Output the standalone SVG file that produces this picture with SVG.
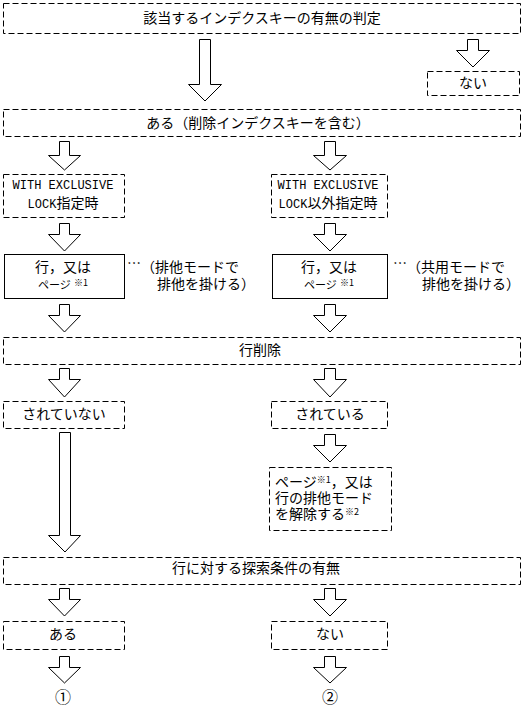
<svg xmlns="http://www.w3.org/2000/svg" width="522" height="713" viewBox="0 0 522 713">
<style>
.bg{fill:#fff}
.db{fill:none;stroke:#000;stroke-width:1;stroke-dasharray:6,3}
.sb{fill:none;stroke:#000;stroke-width:1}
.ar{fill:#fff;stroke:#000;stroke-width:1}
.t{font-family:"Noto Sans CJK JP","Noto Sans CJK SC",sans-serif;font-size:14px;fill:#000}
.m{font-family:"Liberation Mono",monospace;font-size:12px}
.c{text-anchor:middle}
.sup{font-size:9px}
.sm{font-size:11px}
</style>
<rect class="bg" x="0" y="0" width="522" height="713"/>
<g id="connectors">
<polygon class="ar" points="199.5,39.5 210.5,39.5 210.5,84.5 221.5,84.5 205,101 188.5,84.5 199.5,84.5"/>
<polygon class="ar" points="467.5,39.5 478.5,39.5 478.5,50.5 489.5,50.5 473,67 456.5,50.5 467.5,50.5"/>
<polygon class="ar" points="59.5,141.5 69.5,141.5 69.5,155.5 80.5,155.5 64.5,170 48.5,155.5 59.5,155.5"/>
<polygon class="ar" points="324.5,141.5 335.5,141.5 335.5,155.5 346.5,155.5 330,170 313.5,155.5 324.5,155.5"/>
<polygon class="ar" points="59.5,223.5 69.5,223.5 69.5,234.5 80.5,234.5 64.5,251 48.5,234.5 59.5,234.5"/>
<polygon class="ar" points="324.5,223.5 335.5,223.5 335.5,234.5 346.5,234.5 330,251 313.5,234.5 324.5,234.5"/>
<polygon class="ar" points="59.5,304.5 69.5,304.5 69.5,315.5 80.5,315.5 64.5,332 48.5,315.5 59.5,315.5"/>
<polygon class="ar" points="324.5,304.5 335.5,304.5 335.5,315.5 346.5,315.5 330,332 313.5,315.5 324.5,315.5"/>
<polygon class="ar" points="59.5,368.5 69.5,368.5 69.5,379.5 80.5,379.5 64.5,397 48.5,379.5 59.5,379.5"/>
<polygon class="ar" points="324.5,368.5 335.5,368.5 335.5,379.5 346.5,379.5 330,397 313.5,379.5 324.5,379.5"/>
<polygon class="ar" points="59.5,432.5 70.5,432.5 70.5,535.5 80.5,535.5 65,552 48.5,535.5 59.5,535.5"/>
<polygon class="ar" points="324.5,434.5 335.5,434.5 335.5,445.5 346.5,445.5 330,462 313.5,445.5 324.5,445.5"/>
<polygon class="ar" points="59.5,588.5 69.5,588.5 69.5,599.5 80.5,599.5 64.5,616 48.5,599.5 59.5,599.5"/>
<polygon class="ar" points="324.5,588.5 335.5,588.5 335.5,599.5 346.5,599.5 330,616 313.5,599.5 324.5,599.5"/>
<polygon class="ar" points="59.5,656.5 69.5,656.5 69.5,667.5 80.5,667.5 64.5,683 48.5,667.5 59.5,667.5"/>
<polygon class="ar" points="324.5,656.5 335.5,656.5 335.5,667.5 346.5,667.5 330,683 313.5,667.5 324.5,667.5"/>
</g>
<g id="n-judge">
<rect class="db" x="3.5" y="3.5" width="517" height="30"/>
<text class="t c" x="262" y="23">該当するインデクスキーの有無の判定</text>
</g>
<g id="n-none">
<rect class="db" x="427.5" y="71.5" width="92" height="24"/>
<text class="t c" x="473" y="88">ない</text>
</g>
<g id="n-exists">
<rect class="db" x="3.5" y="109.5" width="517" height="27"/>
<text class="t c" x="258" y="128">ある（削除インデクスキーを含む）</text>
</g>
<g id="n-excl">
<rect class="db" x="3.5" y="174.5" width="121" height="43"/>
<text class="t c m" x="63" y="189">WITH EXCLUSIVE</text>
<text class="t c" x="63" y="208"><tspan class="m">LOCK</tspan>指定時</text>
</g>
<g id="n-nonexcl">
<rect class="db" x="271.5" y="174.5" width="116" height="43"/>
<text class="t c m" x="328" y="189">WITH EXCLUSIVE</text>
<text class="t c" x="328" y="208"><tspan class="m">LOCK</tspan>以外指定時</text>
</g>
<g id="n-lock-excl">
<rect class="sb" x="4.5" y="254.5" width="120" height="44"/>
<text class="t c" x="63" y="272">行，又は</text>
<text class="t c" x="63" y="289"><tspan class="sm">ページ</tspan> <tspan class="sup" dy="-3">※1</tspan></text>
<text class="t" x="127" y="272"><tspan dy="-4">…</tspan><tspan dy="4">（排他モードで</tspan></text>
<text class="t" x="157" y="289">排他を掛ける）</text>
</g>
<g id="n-lock-share">
<rect class="sb" x="272.5" y="254.5" width="115" height="44"/>
<text class="t c" x="329" y="272">行，又は</text>
<text class="t c" x="329" y="289"><tspan class="sm">ページ</tspan> <tspan class="sup" dy="-3">※1</tspan></text>
<text class="t" x="393" y="272"><tspan dy="-4">…</tspan><tspan dy="4">（共用モードで</tspan></text>
<text class="t" x="422" y="289">排他を掛ける）</text>
</g>
<g id="n-rowdel">
<rect class="db" x="3.5" y="337.5" width="517" height="27"/>
<text class="t c" x="260" y="355">行削除</text>
</g>
<g id="n-notdel">
<rect class="db" x="3.5" y="401.5" width="121" height="27"/>
<text class="t c" x="64" y="419">されていない</text>
</g>
<g id="n-del">
<rect class="db" x="271.5" y="401.5" width="116" height="27"/>
<text class="t c" x="330" y="419">されている</text>
</g>
<g id="n-release">
<rect class="db" x="269.5" y="467.5" width="122" height="63"/>
<text class="t" x="275" y="487">ページ<tspan class="sup" dy="-4">※1</tspan><tspan dy="4">，又は</tspan></text>
<text class="t" x="275" y="503">行の排他モード</text>
<text class="t" x="275" y="519">を解除する<tspan class="sup" dy="-4">※2</tspan></text>
</g>
<g id="n-cond">
<rect class="db" x="3.5" y="557.5" width="517" height="27"/>
<text class="t c" x="256" y="573">行に対する探索条件の有無</text>
</g>
<g id="n-cond-yes">
<rect class="db" x="3.5" y="621.5" width="121" height="28"/>
<text class="t c" x="63" y="639">ある</text>
</g>
<g id="n-cond-no">
<rect class="db" x="271.5" y="621.5" width="116" height="28"/>
<text class="t c" x="330" y="639">ない</text>
</g>
<g id="n-out1">
<text class="t c" x="63" y="703" style="font-size:16px">①</text>
</g>
<g id="n-out2">
<text class="t c" x="330" y="703" style="font-size:16px">②</text>
</g>
</svg>
